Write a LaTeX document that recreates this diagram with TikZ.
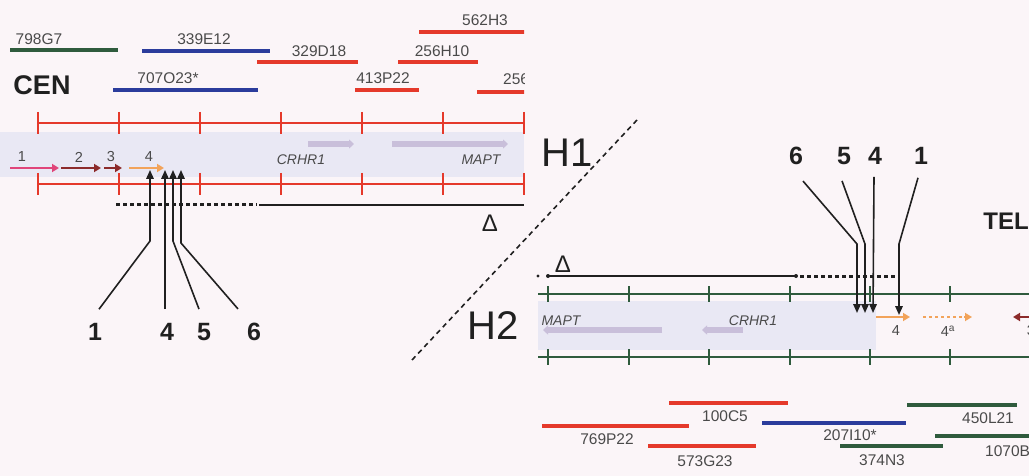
\documentclass[tikz,border=0pt]{standalone}
\usepackage{fontspec}
\setmainfont{Liberation Sans}
\usetikzlibrary{arrows.meta}
\definecolor{bg}{HTML}{FBF5F8}
\definecolor{bandc}{HTML}{E9E8F4}
\definecolor{cred}{HTML}{E5392B}
\definecolor{cblue}{HTML}{2B3C9C}
\definecolor{cgreen}{HTML}{2F5B3D}
\definecolor{labc}{HTML}{4A4A4A}
\definecolor{gpink}{HTML}{E0457A}
\definecolor{gdark}{HTML}{8C2B2B}
\definecolor{gorange}{HTML}{F2A35A}
\definecolor{ggray}{HTML}{C9BFDA}
\definecolor{ink}{HTML}{202020}
\begin{document}
\begin{tikzpicture}[x=1pt,y=-1pt,
  clone/.style={line width=4.5pt},
  clab/.style={inner sep=0pt,text=labc,font=\fontsize{15.5}{17}\selectfont},
  glab/.style={inner sep=0pt,text=labc,font=\fontsize{14.5}{16}\selectfont},
  gname/.style={inner sep=0pt,text=labc,font=\fontsize{14}{16}\selectfont\itshape},
  numlab/.style={inner sep=0pt,text=ink,font=\fontsize{25}{28}\selectfont\bfseries},
  endlab/.style={inner sep=0pt,text=ink,font=\fontsize{27}{30}\selectfont\bfseries},
  hap/.style={inner sep=0pt,text=ink,font=\fontsize{40}{44}\selectfont},
  dellab/.style={inner sep=0pt,text=ink,font=\fontsize{24}{26}\selectfont},
  gene/.style={line width=2.8pt,-{Triangle[length=7pt,width=8pt]}},
  ghost/.style={line width=5.5pt,ggray,-{Triangle[length=5pt,width=9pt]}},
  ptr/.style={line width=1.6pt,ink,-{Triangle[length=9pt,width=7.5pt]}},
  redaxis/.style={line width=1.8pt,cred},
  greenaxis/.style={line width=1.8pt,cgreen},
  delsolid/.style={line width=1.5pt,ink},
  deldot/.style={line width=3pt,ink,dash pattern=on 4pt off 3pt},
]
\useasboundingbox (0,0) rectangle (1029,476);
\fill[bg] (0,0) rectangle (1029,476);

% ---------- H1 (left) ----------
\fill[bandc] (0,132) rectangle (524,177);
\begin{scope}
\clip (0,0) rectangle (524,110);
\draw[clone,cgreen] (10,50) -- (118,50);
\node[clab] (c798) at (39,39) {798G7};
\draw[clone,cblue] (142,51) -- (270,51);
\node[clab] (c339) at (204,39) {339E12};
\draw[clone,cred] (257,62) -- (358,62);
\node[clab] (c329) at (319,51) {329D18};
\draw[clone,cred] (419,32) -- (530,32);
\node[clab] (c562) at (485,20) {562H3};
\draw[clone,cred] (398,62) -- (478,62);
\node[clab] (c256a) at (442,51) {256H10};
\draw[clone,cblue] (113,90) -- (258,90);
\node[clab] (c707) at (168,78) {707O23*};
\draw[clone,cred] (355,90) -- (419,90);
\node[clab] (c413) at (383,78) {413P22};
\draw[clone,cred] (477,92) -- (530,92);
\node[clab,anchor=west] (c256b) at (503,79) {256H10};
\end{scope}
\node[endlab] (cen) at (42,85) {CEN};

\draw[redaxis] (38,123) -- (524,123);
\draw[redaxis] (38,184) -- (524,184);
\foreach \x in {38,119,200,281,362,443,524}{
  \draw[redaxis] (\x,112) -- (\x,134);
  \draw[redaxis] (\x,173) -- (\x,195);
}
\draw[ghost] (308,144) -- (354,144);
\draw[ghost] (392,144) -- (508,144);
\node[gname] (crhr1a) at (301,160) {CRHR1};
\node[gname] (mapta) at (481,160) {MAPT};

\draw[gene,gpink] (10,168) -- (59,168);
\draw[gene,gdark] (61,168) -- (101,168);
\draw[gene,gdark] (104,168) -- (122,168);
\draw[gene,gorange] (129,168) -- (164,168);
\node[glab] (g1) at (22,157) {1};
\node[glab] (g2) at (79,157) {2};
\node[glab] (g3) at (111,157) {3};
\node[glab] (g4) at (149,157) {4};

\draw[deldot] (116,205) -- (257,205);
\draw[delsolid] (259,205) -- (524,205);
\node[dellab] (del1) at (490,223) {Δ};

\node[numlab] (u1) at (95,332) {1};
\node[numlab] (u4) at (167,332) {4};
\node[numlab] (u5) at (204,332) {5};
\node[numlab] (u6) at (254,332) {6};
\coordinate (u1b) at (150,241); \coordinate (u1t) at (150,170);
\coordinate (u4t) at (165,170);
\coordinate (u5b) at (173,241); \coordinate (u5t) at (173,170);
\coordinate (u6b) at (181,243); \coordinate (u6t) at (181,170);
\draw[ptr] ([xshift=4pt,yshift=14pt]u1.north) -- (u1b) -- (u1t);
\draw[ptr] ([xshift=-2pt,yshift=14pt]u4.north) -- (u4t);
\draw[ptr] ([xshift=-5pt,yshift=14pt]u5.north) -- (u5b) -- (u5t);
\draw[ptr] ([xshift=-16pt,yshift=14pt]u6.north) -- (u6b) -- (u6t);

% ---------- separator ----------
\coordinate (sepA) at (637,120);
\coordinate (sepB) at (412,360);
\draw[line width=1.6pt,ink,dash pattern=on 5pt off 4pt] (sepA) -- (sepB);
\node[hap] (h1) at (567,153) {H1};
\node[hap] (h2) at (493,326) {H2};

% ---------- H2 (right) ----------
\fill[bandc] (538,301) rectangle (876,350);
\draw[greenaxis] (538,294) -- (1029,294);
\draw[greenaxis] (538,357) -- (1029,357);
\foreach \x in {548,629,709,790,870,950}{
  \draw[greenaxis] (\x,286) -- (\x,302);
  \draw[greenaxis] (\x,349) -- (\x,365);
}
\draw[ghost] (662,330) -- (543,330);
\draw[ghost] (743,330) -- (702,330);
\node[gname] (mapth) at (561,321) {MAPT};
\node[gname] (crhr1h) at (753,321) {CRHR1};

\draw[gene,gorange] (876,317) -- (910,317);
\draw[line width=2.8pt,gorange,dash pattern=on 3pt off 3pt] (923,317) -- (964,317);
\draw[-{Triangle[length=7pt,width=8pt]},gorange,line width=2.8pt] (964,317) -- (972,317);
\draw[gene,gdark] (1031,317) -- (1013,317);
\node[glab] (h4) at (896,331) {4};
\node[glab] (h4a) at (948,331) {4\textsuperscript{a}};
\node[glab] (h3) at (1031,331) {3};

\fill[ink] (538,276) circle (1.6pt);
\draw[delsolid] (548,276) -- (796,276);
\fill[ink] (548,276) circle (2pt);
\fill[ink] (796,276) circle (2pt);
\draw[deldot] (800,276) -- (895,276);
\node[dellab] (del2) at (563,264) {Δ};

\node[endlab,font=\fontsize{24}{26}\selectfont\bfseries] (tel) at (1006,221) {TEL};

\node[numlab] (d6) at (796,156) {6};
\node[numlab] (d5) at (844,156) {5};
\node[numlab] (d4) at (875,156) {4};
\node[numlab] (d1) at (921,156) {1};
\coordinate (d6b) at (857,244); \coordinate (d6t) at (857,313);
\coordinate (d5b) at (865,244); \coordinate (d5t) at (865,313);
\coordinate (d4t) at (873,313);
\coordinate (d1b) at (899,244); \coordinate (d1t) at (899,315);
\draw[ptr] ([xshift=7pt,yshift=-16pt]d6.south) -- (d6b) -- (d6t);
\draw[ptr] ([xshift=-2pt,yshift=-16pt]d5.south) -- (d5b) -- (d5t);
\draw[ptr] ([xshift=-1pt,yshift=-12pt]d4.south) -- (d4t);
\draw[ptr] ([xshift=-3pt,yshift=-13pt]d1.south) -- (d1b) -- (d1t);

\draw[clone,cred] (669,403) -- (788,403);
\node[clab] (c100) at (725,416) {100C5};
\draw[clone,cred] (542,426) -- (689,426);
\node[clab] (c769) at (607,439) {769P22};
\draw[clone,cred] (648,446) -- (756,446);
\node[clab] (c573) at (705,461) {573G23};
\draw[clone,cblue] (762,423) -- (906,423);
\node[clab] (c207) at (850,435) {207I10*};
\draw[clone,cgreen] (840,446) -- (943,446);
\node[clab] (c374) at (882,460) {374N3};
\draw[clone,cgreen] (907,405) -- (1017,405);
\node[clab] (c450) at (988,418) {450L21};
\draw[clone,cgreen] (935,436) -- (1035,436);
\node[clab,anchor=west] (c1070) at (985,451) {1070B};
\end{tikzpicture}
\end{document}
